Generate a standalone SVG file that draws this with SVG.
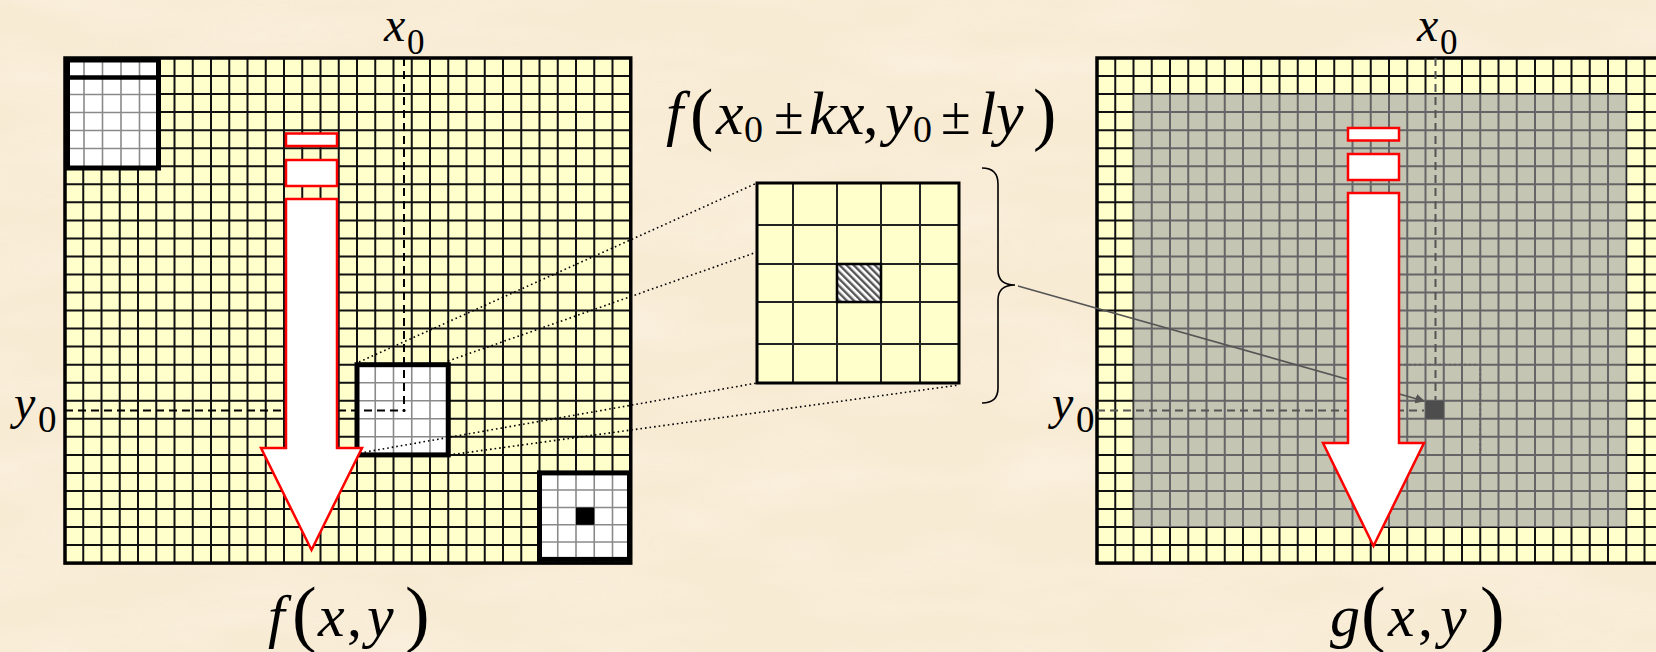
<svg xmlns="http://www.w3.org/2000/svg" width="1656" height="652" viewBox="0 0 1656 652">
<defs>
<style>
.it{font-family:"Liberation Serif","Times New Roman",serif;font-style:italic;fill:#000}
.rm{font-family:"Liberation Serif","Times New Roman",serif;fill:#000}
.cell{fill:#ffffcc}
.gl{fill:none;stroke:#111;stroke-width:2}
.wl{fill:none;stroke:#8a8a8a;stroke-width:1.6}
.win{fill:none;stroke:#000;stroke-width:5}
.border{fill:none;stroke:#000;stroke-width:3.5}
.dash{fill:none;stroke:#000;stroke-width:2;stroke-dasharray:8 5}
.dashg{fill:none;stroke:#555;stroke-width:2;stroke-dasharray:8 5}
.dot{fill:none;stroke:#000;stroke-width:1.6;stroke-dasharray:1.6 3}
.arrow{fill:#fff;stroke:#ff0000;stroke-width:2.5}
</style>
<pattern id="hatch" width="5" height="5" patternUnits="userSpaceOnUse" patternTransform="rotate(-45)">
<rect width="5" height="5" fill="#ffffff"/>
<rect width="2.4" height="5" fill="#555"/>
</pattern>
<marker id="ah" viewBox="0 0 10 10" refX="9" refY="5" markerWidth="6" markerHeight="6" orient="auto" markerUnits="strokeWidth">
<path d="M0,0L10,5L0,10z" fill="#555"/>
</marker>
<filter id="paper" x="0" y="0" width="100%" height="100%">
<feTurbulence type="fractalNoise" baseFrequency="0.006 0.02" numOctaves="3" seed="7"/>
<feColorMatrix type="matrix" values="0 0 0 0 1  0 0 0 0 0.98  0 0 0 0 0.94  0 0 0 0.9 -0.35"/>
</filter>
</defs>
<rect width="1656" height="652" fill="#f8ebd4"/>
<rect width="1656" height="652" filter="url(#paper)" opacity="0.6"/>

<g id="left-image">
<rect class="cell" x="65" y="58" width="565.75" height="505.1"/>
<path class="gl" d="M83.25 58V563M101.5 58V563M119.75 58V563M138 58V563M156.25 58V563M174.5 58V563M192.75 58V563M211 58V563M229.25 58V563M247.5 58V563M265.75 58V563M284 58V563M302.25 58V563M320.5 58V563M338.75 58V563M357 58V563M375.25 58V563M393.5 58V563M411.75 58V563M430 58V563M448.25 58V563M466.5 58V563M484.75 58V563M503 58V563M521.25 58V563M539.5 58V563M557.75 58V563M576 58V563M594.25 58V563M612.5 58V563"/>
<path class="gl" d="M65 76H630.75M65 94.1H630.75M65 112.1H630.75M65 130.2H630.75M65 148.2H630.75M65 166.2H630.75M65 184.3H630.75M65 202.3H630.75M65 220.4H630.75M65 238.4H630.75M65 256.4H630.75M65 274.5H630.75M65 292.5H630.75M65 310.6H630.75M65 328.6H630.75M65 346.6H630.75M65 364.7H630.75M65 382.7H630.75M65 400.8H630.75M65 418.8H630.75M65 436.8H630.75M65 454.9H630.75M65 472.9H630.75M65 491H630.75M65 509H630.75M65 527H630.75M65 545.1H630.75"/>
<rect class="border" x="65" y="58" width="565.75" height="505.1"/>
</g>

<g id="window-top-left">
<rect x="65" y="58" width="93" height="110" fill="#fff"/>
<path class="wl" d="M84 60V166M102.5 60V166M121 60V166M139.5 60V166M67 94.5H156M67 112.5H156M67 130.5H156M67 148.5H156"/>
<path d="M65 77.5H158" stroke="#000" stroke-width="4.5"/>
<rect class="win" x="67.5" y="60" width="91" height="108"/>
</g>

<g id="window-center">
<rect x="357" y="364.7" width="91.25" height="90.2" fill="#fff"/>
<path class="wl" d="M375.25 364.7V454.9M393.5 364.7V454.9M411.75 364.7V454.9M430 364.7V454.9M357 382.7H448.25M357 400.8H448.25M357 418.8H448.25M357 436.8H448.25"/>
<rect class="win" x="357" y="364.7" width="91.25" height="90.2"/>
</g>

<g id="window-bottom-right">
<rect x="539.5" y="472.9" width="90" height="86.5" fill="#fff"/>
<path class="wl" d="M557.75 472.9V559.4M576 472.9V559.4M594.25 472.9V559.4M612.5 472.9V559.4M539.5 490H629.5M539.5 507.5H629.5M539.5 524.8H629.5M539.5 542H629.5"/>
<rect x="576" y="507.5" width="18.25" height="17.3" fill="#000"/>
<rect class="win" x="539.5" y="472.9" width="90" height="86.5"/>
</g>

<g id="left-guides">
<path class="dash" d="M404 58V410.5"/>
<path class="dash" d="M65 410.5H404"/>
<circle cx="404" cy="410.5" r="1.6" fill="#000"/>
</g>

<g id="right-image">
<rect class="cell" x="1097" y="58" width="565.75" height="505.1"/>
<path class="gl" d="M1115.25 58V563M1133.5 58V563M1151.75 58V563M1170 58V563M1188.25 58V563M1206.5 58V563M1224.75 58V563M1243 58V563M1261.25 58V563M1279.5 58V563M1297.75 58V563M1316 58V563M1334.25 58V563M1352.5 58V563M1370.75 58V563M1389 58V563M1407.25 58V563M1425.5 58V563M1443.75 58V563M1462 58V563M1480.25 58V563M1498.5 58V563M1516.75 58V563M1535 58V563M1553.25 58V563M1571.5 58V563M1589.75 58V563M1608 58V563M1626.25 58V563M1644.5 58V563"/>
<path class="gl" d="M1097 76H1662M1097 94.1H1662M1097 112.1H1662M1097 130.2H1662M1097 148.2H1662M1097 166.2H1662M1097 184.3H1662M1097 202.3H1662M1097 220.4H1662M1097 238.4H1662M1097 256.4H1662M1097 274.5H1662M1097 292.5H1662M1097 310.6H1662M1097 328.6H1662M1097 346.6H1662M1097 364.7H1662M1097 382.7H1662M1097 400.8H1662M1097 418.8H1662M1097 436.8H1662M1097 454.9H1662M1097 472.9H1662M1097 491H1662M1097 509H1662M1097 527H1662M1097 545.1H1662"/>
<rect x="1133.5" y="94.1" width="492.75" height="432.9" fill="rgb(158,158,162)" fill-opacity="0.6"/>
<rect class="border" x="1097" y="58" width="565.75" height="505.1"/>
<path class="dashg" d="M1435.5 58V400"/>
<path class="dashg" d="M1097 410.5H1424"/>
<rect x="1425.5" y="400.8" width="18.25" height="18" fill="#4d4d4d"/>
<rect x="1389" y="364.7" width="91.25" height="90.2" fill="none" stroke="#666" stroke-width="2" stroke-dasharray="2 3"/>
</g>

<g id="magnified-window">
<rect x="757" y="183" width="202" height="200" fill="#ffffcc"/>
<rect x="837" y="264" width="44" height="38" fill="url(#hatch)"/>
<path d="M793 183V383M837 183V383M881 183V383M920 183V383M757 225H959M757 264H959M757 302H959M757 344H959" fill="none" stroke="#222" stroke-width="2"/>
<rect x="837" y="264" width="44" height="38" fill="none" stroke="#000" stroke-width="2.5"/>
<rect x="757" y="183" width="202" height="200" fill="none" stroke="#000" stroke-width="3"/>
</g>

<g id="connectors">
<path class="dot" d="M359 362L757 183"/>
<path class="dot" d="M448 361L757 252"/>
<path class="dot" d="M360 453L757 383"/>
<path class="dot" d="M449 455L959 385"/>
<path d="M982 168Q998 168 998 184V270Q998 285 1015 285Q998 285 998 300V388Q998 403 982 403" fill="none" stroke="#000" stroke-width="1.6"/>
<path d="M1018 286L1424 401" fill="none" stroke="#555" stroke-width="1.6" marker-end="url(#ah)"/>
</g>

<g id="left-arrow">
<rect class="arrow" x="286" y="133.5" width="51" height="12.5"/>
<rect class="arrow" x="286" y="160" width="51" height="26"/>
<path class="arrow" d="M286 199H337V448H362L311.5 550L261 448H286Z"/>
</g>

<g id="right-arrow">
<rect class="arrow" x="1348" y="128" width="51" height="12.5"/>
<rect class="arrow" x="1348" y="154" width="51" height="26"/>
<path class="arrow" d="M1348 193H1399V443H1424L1373.5 546L1323 443H1348Z"/>
</g>

<g id="labels">
<text class="it" x="384" y="41" font-size="48">x</text><text class="rm" x="407" y="54" font-size="35">0</text>
<text class="it" x="1417" y="41" font-size="48">x</text><text class="rm" x="1440" y="54" font-size="35">0</text>
<text class="it" x="14" y="419" font-size="48">y</text><text class="rm" x="38" y="431.5" font-size="37">0</text>
<text class="it" x="1052" y="419" font-size="48">y</text><text class="rm" x="1076" y="431.5" font-size="37">0</text>

<text class="it" x="666" y="134" font-size="62">f</text>
<text class="rm" x="690" y="137" font-size="70">(</text>
<text class="it" x="716" y="134" font-size="62">x</text>
<text class="rm" x="744" y="142" font-size="38">0</text>
<text class="rm" x="774" y="134" font-size="54">±</text>
<text class="it" x="809" y="134" font-size="62">k</text>
<text class="it" x="837" y="134" font-size="62">x</text>
<text class="rm" x="863" y="134" font-size="62">,</text>
<text class="it" x="885" y="134" font-size="62">y</text>
<text class="rm" x="913" y="142" font-size="38">0</text>
<text class="rm" x="941" y="134" font-size="54">±</text>
<text class="it" x="979" y="134" font-size="62">l</text>
<text class="it" x="996" y="134" font-size="62">y</text>
<text class="rm" x="1033" y="137" font-size="70">)</text>

<text class="it" x="268" y="636" font-size="60">f</text>
<text class="rm" x="292" y="638" font-size="74">(</text>
<text class="it" x="318" y="636" font-size="60">x</text>
<text class="rm" x="347" y="636" font-size="60">,</text>
<text class="it" x="367" y="636" font-size="60">y</text>
<text class="rm" x="405" y="638" font-size="74">)</text>

<text class="it" x="1330" y="636" font-size="60">g</text>
<text class="rm" x="1361" y="638" font-size="74">(</text>
<text class="it" x="1388" y="636" font-size="60">x</text>
<text class="rm" x="1418" y="636" font-size="60">,</text>
<text class="it" x="1440" y="636" font-size="60">y</text>
<text class="rm" x="1480" y="638" font-size="74">)</text>
</g>
</svg>
